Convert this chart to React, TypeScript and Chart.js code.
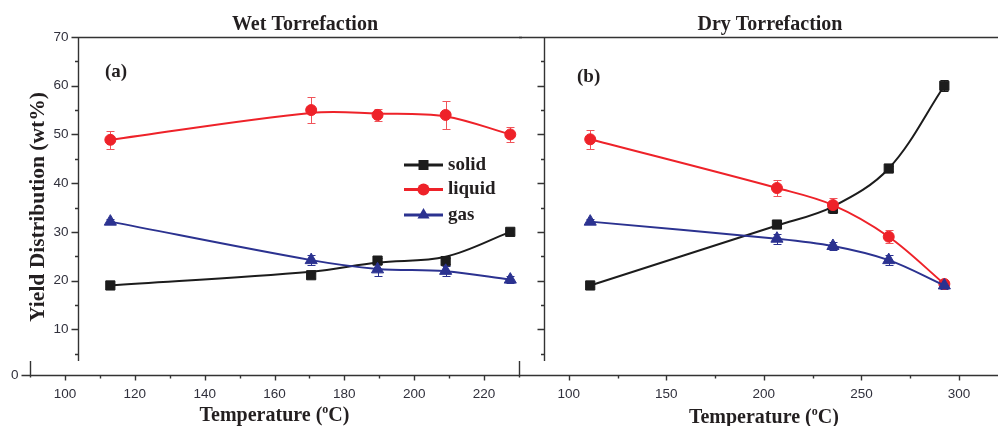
import React, { useEffect, useRef } from "react";
import { Chart, registerables } from "chart.js";

Chart.register(...registerables);

// ---------------- data ----------------
const seriesNames = ["solid", "liquid", "gas"];

const wetTemps = [113, 170.5, 189.5, 209, 227.5];
const wetSolid = [19.0, 21.1, 24.1, 24.0, 30.0];
const wetLiquid = [48.9, 55.0, 54.0, 54.0, 50.0];
const wetGas = [32.1, 24.2, 22.3, 22.0, 20.2];
const wetSolidErr = [0.4, 0.5, 0.6, 0.7, 0.5];
const wetLiquidErr = [1.9, 2.6, 1.3, 2.9, 1.6];
const wetGasErr = [0.5, 1.1, 1.3, 1.0, 0.8];
const wetSolidCurve = [19.0, 21.8, 23.7, 24.9, 30.0];
const wetLiquidCurve = [48.9, 54.4, 54.3, 53.7, 50.0];
const wetGasCurve = [32.1, 24.2, 22.4, 21.9, 20.2];

// Dry torrefaction
const dryTemps = [111, 206.7, 235.4, 264, 292.5];
const drySolid = [19.0, 31.5, 34.8, 43.0, 60.0];
const dryLiquid = [49.0, 39.0, 35.5, 29.0, 19.3];
const dryGas = [32.1, 28.6, 27.1, 24.2, 19.0];
const drySolidErr = [0.4, 0.6, 1.0, 0.6, 1.1];
const dryLiquidErr = [2.0, 1.7, 1.5, 1.3, 0.8];
const dryGasErr = [0.5, 1.0, 0.8, 1.0, 0.8];
const drySolidCurve = [19.0, 31.3, 35.2, 43.0, 60.0];
const dryLiquidCurve = [49.0, 39.0, 35.5, 29.0, 19.3];
const dryGasCurve = [32.1, 28.6, 27.1, 24.2, 19.0];

const yMajorTicks = [10, 20, 30, 40, 50, 60, 70];
const yMinorTicks = [5, 15, 25, 35, 45, 55, 65];
const wetXMajorTicks = [100, 120, 140, 160, 180, 200, 220];
const wetXMinorTicks = [110, 130, 150, 170, 190, 210];
const dryXMajorTicks = [100, 150, 200, 250, 300];
const dryXMinorTicks = [125, 175, 225, 275];

// ---------------- styles ----------------
const SERIF = '"Liberation Serif", "Times New Roman", serif';
const SANS = '"Liberation Sans", Arial, sans-serif';
const COLORS = ["#1c1c1c", "#ee2229", "#2b3290"];
const ERR_COLORS = ["#1c1c1c", "#f0545a", "#2b3290"];
const POINT_STYLES = ["rect", "circle", "triangle"];
const POINT_RADII = [6.5, 5.5, 7];
const AXIS_COLOR = "#333333";
const TICK_LABEL_COLOR = "#30303c";
const TEXT_COLOR = "#231f20";
const Y_MIN = 0;
const Y_MAX = 70;
const Y_AXIS_LOW = 3.5; // where the upper y-axis segment stops
const BASE_VALUE = 0.55; // value where the bottom axis line sits

interface PanelCfg {
  temps: number[];
  series: number[][];
  curves: number[][];
  errs: number[][];
  xMin: number;
  xMax: number;
  xMajor: number[];
  xMinor: number[];
  yAxisAt: number;
  showYLabels: boolean;
  padLeft: number;
  padRight: number;
  title: string;
  titleX: number;
  tag: string;
  tagX: number;
  tagY: number;
  xTitleAt: number;
  xTitleBaseline: number;
  isLeft: boolean;
}

function drawMarker(ctx: CanvasRenderingContext2D, style: string, x: number, y: number, color: string) {
  ctx.save();
  ctx.fillStyle = color;
  ctx.beginPath();
  if (style === "rect") {
    ctx.rect(x - 5, y - 5, 10, 10);
  } else if (style === "circle") {
    ctx.arc(x, y, 6, 0, Math.PI * 2);
  } else {
    const r = 7;
    ctx.moveTo(x, y - r);
    ctx.lineTo(x + r * 0.866, y + r * 0.5);
    ctx.lineTo(x - r * 0.866, y + r * 0.5);
    ctx.closePath();
  }
  ctx.fill();
  ctx.restore();
}

function drawTemperatureTitle(ctx: CanvasRenderingContext2D, cx: number, baseline: number) {
  const big = `bold 20px ${SERIF}`;
  const small = `bold 12px ${SERIF}`;
  const parts: [string, string, number][] = [
    ["Temperature (", big, 0],
    ["o", small, -8],
    ["C)", big, 0],
  ];
  let total = 0;
  const widths = parts.map(([t, f]) => {
    ctx.font = f;
    const w = ctx.measureText(t).width;
    total += w;
    return w;
  });
  let x = cx - total / 2;
  ctx.fillStyle = TEXT_COLOR;
  ctx.textAlign = "left";
  ctx.textBaseline = "alphabetic";
  parts.forEach(([t, f, dy], i) => {
    ctx.font = f;
    ctx.fillText(t, x, baseline + dy);
    x += widths[i];
  });
}

function panelPlugin(cfg: PanelCfg) {
  return {
    id: "panelDecor",
    beforeDatasetsDraw(chart: any) {
      const ctx: CanvasRenderingContext2D = chart.ctx;
      const xs = chart.scales.x;
      const ys = chart.scales.y;
      ctx.save();
      ctx.lineWidth = 1;
      cfg.series.forEach((vals, i) => {
        ctx.strokeStyle = ERR_COLORS[i];
        cfg.temps.forEach((t, j) => {
          const e = cfg.errs[i][j];
          if (!e) return;
          const px = Math.round(xs.getPixelForValue(t)) + 0.5;
          const top = Math.round(ys.getPixelForValue(vals[j] + e)) + 0.5;
          const bot = Math.round(ys.getPixelForValue(vals[j] - e)) + 0.5;
          ctx.beginPath();
          ctx.moveTo(px, top);
          ctx.lineTo(px, bot);
          ctx.moveTo(px - 4, top);
          ctx.lineTo(px + 4, top);
          ctx.moveTo(px - 4, bot);
          ctx.lineTo(px + 4, bot);
          ctx.stroke();
        });
      });
      ctx.restore();
    },
    afterDatasetsDraw(chart: any) {
      const ctx: CanvasRenderingContext2D = chart.ctx;
      const xs = chart.scales.x;
      const ys = chart.scales.y;
      const area = chart.chartArea;
      const W = chart.width;
      ctx.save();
      ctx.strokeStyle = AXIS_COLOR;
      ctx.lineWidth = 1.4;

      const yAx = Math.round(xs.getPixelForValue(cfg.yAxisAt)) + 0.5;
      const yTop = Math.round(ys.getPixelForValue(Y_MAX)) + 0.5;
      const yLow = ys.getPixelForValue(Y_AXIS_LOW);
      const baseY = Math.round(ys.getPixelForValue(BASE_VALUE)) + 0.5;

      // upper y-axis segment
      ctx.beginPath();
      ctx.moveTo(yAx, yTop);
      ctx.lineTo(yAx, yLow);
      yMajorTicks.forEach((v) => {
        const py = Math.round(ys.getPixelForValue(v)) + 0.5;
        ctx.moveTo(yAx - 7, py);
        ctx.lineTo(yAx, py);
      });
      yMinorTicks.forEach((v) => {
        const py = Math.round(ys.getPixelForValue(v)) + 0.5;
        ctx.moveTo(yAx - 3.5, py);
        ctx.lineTo(yAx, py);
      });
      // top frame line
      ctx.moveTo(cfg.isLeft ? yAx - 7 : 0, yTop);
      ctx.lineTo(W, yTop);
      // bottom axis line
      ctx.moveTo(cfg.isLeft ? area.left : 0, baseY);
      ctx.lineTo(cfg.isLeft ? area.right + 1 : W, baseY);
      cfg.xMajor.forEach((v) => {
        const px = Math.round(xs.getPixelForValue(v)) + 0.5;
        ctx.moveTo(px, baseY);
        ctx.lineTo(px, baseY + 5);
      });
      cfg.xMinor.forEach((v) => {
        const px = Math.round(xs.getPixelForValue(v)) + 0.5;
        ctx.moveTo(px, baseY);
        ctx.lineTo(px, baseY + 3);
      });
      if (cfg.isLeft) {
        const l = Math.round(area.left) + 0.5;
        const r = Math.round(area.right) + 0.5;
        ctx.moveTo(l, yLow);
        ctx.lineTo(l, baseY + 2);
        ctx.moveTo(l - 9, baseY);
        ctx.lineTo(l, baseY);
        ctx.moveTo(r, yLow);
        ctx.lineTo(r, baseY + 2);
      }
      ctx.stroke();

      // tick labels
      ctx.fillStyle = TICK_LABEL_COLOR;
      ctx.font = `13.5px ${SANS}`;
      ctx.textBaseline = "middle";
      if (cfg.showYLabels) {
        ctx.textAlign = "right";
        yMajorTicks.forEach((v) => {
          ctx.fillText(String(v), yAx - 10, ys.getPixelForValue(v));
        });
        ctx.fillText(String(Y_MIN), area.left - 11.5, baseY);
      }
      ctx.textAlign = "center";
      cfg.xMajor.forEach((v) => {
        ctx.fillText(String(v), xs.getPixelForValue(v), baseY + 18.5);
      });

      // panel title
      ctx.fillStyle = TEXT_COLOR;
      ctx.font = `bold 20px ${SERIF}`;
      ctx.textAlign = "center";
      ctx.textBaseline = "alphabetic";
      ctx.fillText(cfg.title, cfg.titleX, 30);

      // tag
      ctx.font = `bold 19px ${SERIF}`;
      ctx.textAlign = "left";
      ctx.textBaseline = "middle";
      ctx.fillText(cfg.tag, cfg.tagX, cfg.tagY);

      // x title
      drawTemperatureTitle(ctx, xs.getPixelForValue(cfg.xTitleAt), cfg.xTitleBaseline);

      if (cfg.isLeft) {
        // y title
        ctx.save();
        ctx.translate(44, 207);
        ctx.rotate(-Math.PI / 2);
        ctx.font = `bold 21.5px ${SERIF}`;
        ctx.textAlign = "center";
        ctx.textBaseline = "alphabetic";
        ctx.fillStyle = TEXT_COLOR;
        ctx.fillText("Yield Distribution (wt%)", 0, 0);
        ctx.restore();

        // legend
        const legendY = [165, 189.5, 215];
        seriesNames.forEach((name, i) => {
          const y = legendY[i];
          ctx.strokeStyle = COLORS[i];
          ctx.lineWidth = 3;
          ctx.beginPath();
          ctx.moveTo(404, y);
          ctx.lineTo(443, y);
          ctx.stroke();
          drawMarker(ctx, POINT_STYLES[i], 423.5, y, COLORS[i]);
          ctx.fillStyle = TEXT_COLOR;
          ctx.font = `bold 19px ${SERIF}`;
          ctx.textAlign = "left";
          ctx.textBaseline = "middle";
          ctx.fillText(name, 448, y);
        });
      }
      ctx.restore();
    },
  };
}

function makePanel(canvas: HTMLCanvasElement, cfg: PanelCfg) {
  const datasets: any[] = [];
  cfg.series.forEach((vals, i) => {
    // fitted curve
    datasets.push({
      label: seriesNames[i] + " curve",
      data: cfg.temps.map((t, j) => ({ x: t, y: cfg.curves[i][j] })),
      borderColor: COLORS[i],
      backgroundColor: COLORS[i],
      borderWidth: 2,
      pointRadius: 0,
      tension: 0.35,
      order: 6 - 2 * i,
      clip: false,
    });
    // measured points
    datasets.push({
      label: seriesNames[i],
      data: cfg.temps.map((t, j) => ({ x: t, y: vals[j] })),
      showLine: false,
      borderColor: COLORS[i],
      backgroundColor: COLORS[i],
      pointStyle: POINT_STYLES[i],
      pointRadius: POINT_RADII[i],
      pointBorderWidth: 1,
      pointBackgroundColor: COLORS[i],
      pointBorderColor: COLORS[i],
      order: 5 - 2 * i,
      clip: false,
    });
  });
  return new Chart(canvas, {
    type: "line",
    data: { datasets } as any,
    options: {
      responsive: false,
      animation: false,
      devicePixelRatio: 1,
      events: [],
      layout: { autoPadding: false, padding: { left: cfg.padLeft, right: cfg.padRight, top: 37, bottom: 48 } },
      scales: {
        x: { type: "linear", min: cfg.xMin, max: cfg.xMax, display: false },
        y: { type: "linear", min: Y_MIN, max: Y_MAX, display: false },
      },
      plugins: {
        legend: { display: false },
        tooltip: { enabled: false },
        title: { display: false },
      },
    } as any,
    plugins: [panelPlugin(cfg) as any],
  });
}

const wetCfg: PanelCfg = {
  temps: wetTemps,
  series: [wetSolid, wetLiquid, wetGas],
  curves: [wetSolidCurve, wetLiquidCurve, wetGasCurve],
  errs: [wetSolidErr, wetLiquidErr, wetGasErr],
  xMin: 90,
  xMax: 230,
  xMajor: wetXMajorTicks,
  xMinor: wetXMinorTicks,
  yAxisAt: 103.8,
  showYLabels: true,
  padLeft: 30,
  padRight: 3,
  title: "Wet Torrefaction",
  titleX: 305,
  tag: "(a)",
  tagX: 105,
  tagY: 72,
  xTitleAt: 160,
  xTitleBaseline: 421,
  isLeft: true,
};

const dryCfg: PanelCfg = {
  temps: dryTemps,
  series: [drySolid, dryLiquid, dryGas],
  curves: [drySolidCurve, dryLiquidCurve, dryGasCurve],
  errs: [drySolidErr, dryLiquidErr, dryGasErr],
  xMin: 74.5,
  xMax: 320,
  xMajor: dryXMajorTicks,
  xMinor: dryXMinorTicks,
  yAxisAt: 87.3,
  showYLabels: false,
  padLeft: 0,
  padRight: 0,
  title: "Dry Torrefaction",
  titleX: 251,
  tag: "(b)",
  tagX: 58,
  tagY: 77,
  xTitleAt: 200,
  xTitleBaseline: 423,
  isLeft: false,
};

export default function App() {
  const leftRef = useRef<HTMLCanvasElement>(null);
  const rightRef = useRef<HTMLCanvasElement>(null);
  useEffect(() => {
    document.body.style.margin = "0";
    const a = makePanel(leftRef.current!, wetCfg);
    const b = makePanel(rightRef.current!, dryCfg);
    return () => {
      a.destroy();
      b.destroy();
    };
  }, []);
  return (
    <div style={{ position: "fixed", left: 0, top: 0, width: 998, height: 426, background: "#ffffff", overflow: "hidden" }}>
      <canvas
        ref={leftRef}
        width={522}
        height={426}
        style={{ position: "absolute", left: 0, top: 0, width: 522, height: 426 }}
      />
      <canvas
        ref={rightRef}
        width={479}
        height={426}
        style={{ position: "absolute", left: 519, top: 0, width: 479, height: 426 }}
      />
    </div>
  );
}
